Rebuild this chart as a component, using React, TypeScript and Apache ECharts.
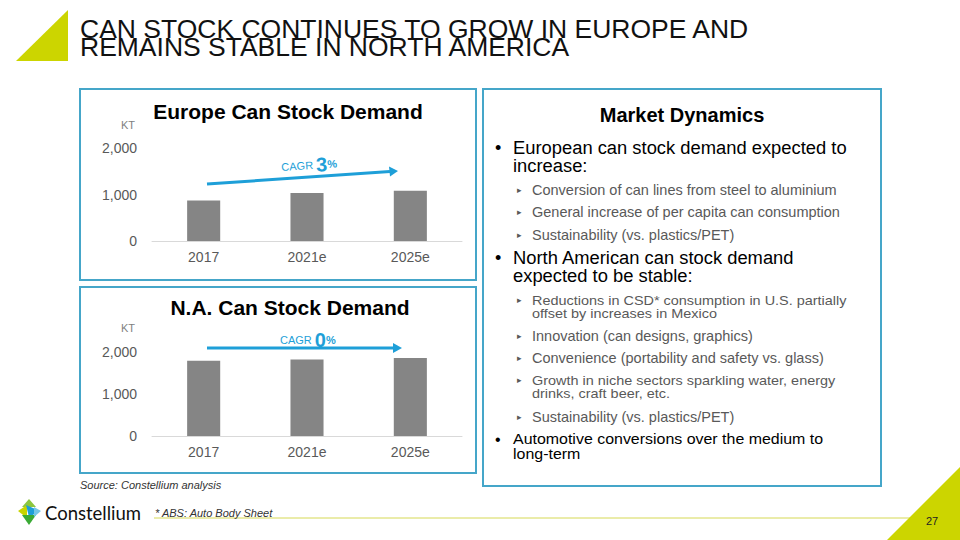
import React, { useEffect, useRef } from "react";
import * as echarts from "echarts";

const categories = ["2017", "2021e", "2025e"];
const europeValues = [870, 1030, 1080];
const naValues = [1790, 1820, 1860];
const yTicks = [0, 1000, 2000];
const europeCagr = "3";
const naCagr = "0";

const FONT = "'Liberation Sans', Arial, Helvetica, sans-serif";
const GRAY_TEXT = "#595959";
const BORDER = "#45a6c9";
const LIME = "#ccd500";
const BLUE = "#1e9fd8";

export default function App() {
  const ref = useRef<HTMLDivElement>(null);
  useEffect(() => {
    if (!ref.current) return;
    const chart = echarts.init(ref.current, undefined, { renderer: "svg" });

    // multi-line text: yFirst = centre of first line
    const txt = (x: number, yFirst: number, lines: string | string[], o: any = {}) => {
      const arr = Array.isArray(lines) ? lines : [lines];
      const lh = o.lh || (o.size || 14) * 1.2;
      return {
        type: "text",
        x,
        y: yFirst + ((arr.length - 1) * lh) / 2,
        scaleX: o.scaleX || 1,
        style: {
          text: arr.join("\n"),
          fontFamily: o.family || FONT,
          fontSize: o.size || 14,
          fontWeight: o.weight || "normal",
          fontStyle: o.style || "normal",
          fill: o.color || "#000",
          lineHeight: lh,
          textAlign: o.align || "left",
          textVerticalAlign: "middle",
        },
      };
    };

    const cagrText = (x: number, y: number, rot: number, val: string) => ({
      type: "text",
      x,
      y,
      rotation: rot,
      style: {
        text: "{a|CAGR }{b|" + val + "}{c|%}",
        fontFamily: FONT,
        textVerticalAlign: "bottom",
        rich: {
          a: { fontFamily: FONT, fontSize: 11, fill: BLUE },
          b: { fontFamily: FONT, fontSize: 20, fontWeight: "bold", fill: BLUE },
          c: { fontFamily: FONT, fontSize: 11, fontWeight: "bold", fill: BLUE },
        },
      },
    });

    const sub = (y: number, lines: string | string[]) => {
      const multi = Array.isArray(lines);
      return [
        txt(517, y, "▸", { size: 9, color: GRAY_TEXT }),
        multi
          ? txt(532, y, lines, { size: 13.5, color: GRAY_TEXT, lh: 13.5, scaleX: 1.07 })
          : txt(532, y, lines, { size: 14.5, color: GRAY_TEXT }),
      ];
    };

    const graphic: any[] = [
      // top-left triangle
      { type: "polygon", shape: { points: [[16, 61], [68, 10], [68, 61]] }, style: { fill: LIME } },
      txt(80, 29, ["CAN STOCK CONTINUES TO GROW IN EUROPE AND", "REMAINS STABLE IN NORTH AMERICA"], {
        size: 25,
        color: "#111",
        lh: 18,
        scaleX: 1.06,
      }),
      // boxes
      { type: "rect", shape: { x: 80, y: 89, width: 396, height: 191 }, style: { fill: "none", stroke: BORDER, lineWidth: 2 } },
      { type: "rect", shape: { x: 80, y: 287, width: 396, height: 186 }, style: { fill: "none", stroke: BORDER, lineWidth: 2 } },
      { type: "rect", shape: { x: 483, y: 89, width: 398, height: 397 }, style: { fill: "none", stroke: BORDER, lineWidth: 2 } },
      // chart titles
      txt(288, 111, "Europe Can Stock Demand", { size: 21, weight: "bold", align: "center" }),
      txt(128, 125, "KT", { size: 11, color: "#7f7f7f", align: "center" }),
      txt(290, 307, "N.A. Can Stock Demand", { size: 21, weight: "bold", align: "center" }),
      txt(128, 328, "KT", { size: 11, color: "#7f7f7f", align: "center" }),
      // Europe CAGR arrow
      { type: "line", shape: { x1: 207, y1: 184, x2: 390, y2: 171.5 }, style: { stroke: BLUE, lineWidth: 3 } },
      { type: "polygon", shape: { points: [[398, 171], [389, 166.5], [390, 176.5]] }, style: { fill: BLUE } },
      cagrText(282, 177, 0.065, europeCagr),
      // NA CAGR arrow
      { type: "line", shape: { x1: 207, y1: 348, x2: 394, y2: 348 }, style: { stroke: BLUE, lineWidth: 3 } },
      { type: "polygon", shape: { points: [[402, 348], [393, 343], [393, 353]] }, style: { fill: BLUE } },
      cagrText(280, 350, 0, naCagr),
      // Market dynamics
      txt(682, 115, "Market Dynamics", { size: 20, weight: "bold", align: "center" }),
      txt(495, 148, "•", { size: 18 }),
      txt(513, 148, ["European can stock demand expected to", "increase:"], { size: 18, lh: 18, scaleX: 1.02 }),
      ...sub(190, "Conversion of can lines from steel to aluminium"),
      ...sub(212, "General increase of per capita can consumption"),
      ...sub(235, "Sustainability (vs. plastics/PET)"),
      txt(495, 258, "•", { size: 18 }),
      txt(513, 258, ["North American can stock demand", "expected to be stable:"], { size: 18, lh: 18, scaleX: 1.02 }),
      ...sub(300, ["Reductions in CSD* consumption in U.S. partially", "offset by increases in Mexico"]),
      ...sub(336, "Innovation (can designs, graphics)"),
      ...sub(358, "Convenience (portability and safety vs. glass)"),
      ...sub(380, ["Growth in niche sectors sparkling water, energy", "drinks, craft beer, etc."]),
      ...sub(417, "Sustainability (vs. plastics/PET)"),
      txt(495, 439, "•", { size: 16 }),
      txt(513, 439, ["Automotive conversions over the medium to", "long-term"], { size: 14.5, lh: 14.5, scaleX: 1.1 }),
      // footer
      txt(80, 485, "Source: Constellium analysis", { size: 11, style: "italic", color: "#333" }),
      { type: "line", shape: { x1: 154, y1: 518, x2: 910, y2: 518 }, style: { stroke: "#d6d955", lineWidth: 1 } },
      txt(155, 513, "* ABS: Auto Body Sheet", { size: 11, style: "italic", color: "#333" }),
      { type: "polygon", shape: { points: [[887, 540], [960, 467], [960, 540]] }, style: { fill: LIME } },
      txt(932, 521, "27", { size: 11, color: "#222", align: "center" }),
      // logo
      { type: "polygon", shape: { points: [[29, 499], [22, 507], [36, 507]] }, style: { fill: "#8dc63f" } },
      { type: "polygon", shape: { points: [[18, 511], [27, 505], [27, 518]] }, style: { fill: "#c8d400" } },
      { type: "polygon", shape: { points: [[26, 505], [40, 511], [29, 517]] }, style: { fill: "#1e9fd8" } },
      { type: "polygon", shape: { points: [[22, 515], [36, 515], [29, 525]] }, style: { fill: "#3aaa35" } },
      { type: "polygon", shape: { points: [[34, 507], [41, 511], [34, 517]] }, style: { fill: "#74c6e8" } },
      txt(45, 513, "Constellium", { size: 18.5, color: "#111", family: "Lato, 'Open Sans', sans-serif" }),
    ];

    const yAxisCommon = {
      type: "value",
      min: yTicks[0],
      max: yTicks[yTicks.length - 1],
      interval: 1000,
      splitLine: { show: false },
      axisLine: { show: false },
      axisTick: { show: false },
      axisLabel: {
        color: GRAY_TEXT,
        fontSize: 14,
        fontFamily: FONT,
        margin: 15,
        formatter: (v: number) => v.toLocaleString("en-US"),
      },
    };
    const xAxisCommon = {
      type: "category",
      data: categories,
      axisLine: { lineStyle: { color: "#d9d9d9", width: 1 } },
      axisTick: { show: false },
      axisLabel: { color: GRAY_TEXT, fontSize: 14, fontFamily: FONT, margin: 9 },
    };

    chart.setOption({
      animation: false,
      backgroundColor: "#fff",
      grid: [
        { left: 152, width: 310, top: 148, height: 93 },
        { left: 152, width: 310, top: 352, height: 84 },
      ],
      xAxis: [
        { ...xAxisCommon, gridIndex: 0 },
        { ...xAxisCommon, gridIndex: 1 },
      ],
      yAxis: [
        { ...yAxisCommon, gridIndex: 0 },
        { ...yAxisCommon, gridIndex: 1 },
      ],
      series: [
        {
          type: "bar",
          xAxisIndex: 0,
          yAxisIndex: 0,
          data: europeValues,
          barWidth: "32%",
          itemStyle: { color: "#858585" },
        },
        {
          type: "bar",
          xAxisIndex: 1,
          yAxisIndex: 1,
          data: naValues,
          barWidth: "32%",
          itemStyle: { color: "#858585" },
        },
      ],
      graphic,
    });
    return () => chart.dispose();
  }, []);
  return (
    <div
      ref={ref}
      style={{ position: "fixed", left: 0, top: 0, width: 960, height: 540, background: "#fff" }}
    />
  );
}
